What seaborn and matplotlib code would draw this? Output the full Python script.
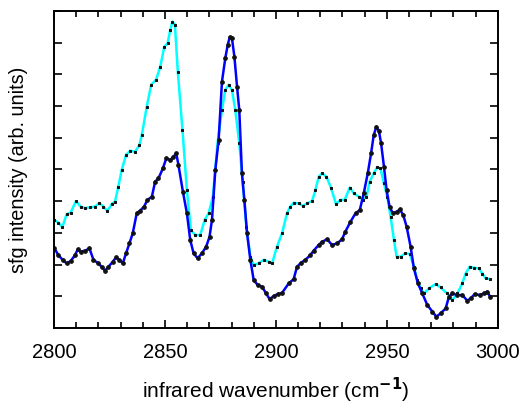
import numpy as np
import matplotlib
matplotlib.use("Agg")
import matplotlib.pyplot as plt
from matplotlib.ticker import MultipleLocator
import seaborn as sns

# cyan trace (wavenumber, intensity in arb. units)
cyan_wn = [2800.2, 2802.0, 2803.8, 2805.7, 2807.5, 2809.9, 2812.0, 2814.0, 2816.3, 2818.5,
           2820.5, 2822.3, 2824.1, 2826.0, 2827.5, 2829.0, 2830.5, 2832.5, 2834.3, 2836.6,
           2838.5, 2839.6, 2841.8, 2843.8, 2846.0, 2847.9, 2849.7, 2851.2, 2852.4, 2853.4,
           2854.5, 2855.8, 2857.9, 2859.9, 2861.7, 2863.7, 2865.9, 2867.9, 2869.7, 2871.6,
           2873.7, 2875.7, 2877.2, 2878.7, 2880.2, 2881.7, 2883.5, 2885.0, 2886.7, 2888.5,
           2890.0, 2892.2, 2894.5, 2896.8, 2898.3, 2900.5, 2902.8, 2905.0, 2906.5, 2908.0,
           2910.3, 2912.2, 2914.0, 2916.3, 2917.8, 2919.3, 2920.8, 2922.8, 2924.9, 2927.1,
           2929.1, 2931.0, 2933.3, 2935.1, 2937.4, 2939.3, 2940.8, 2942.3, 2944.1, 2945.6,
           2947.1, 2948.7, 2950.2, 2951.7, 2953.2, 2954.4, 2956.2, 2958.4, 2960.4, 2962.2,
           2963.7, 2965.2, 2966.7, 2969.0, 2972.0, 2974.2, 2977.2, 2979.5, 2981.8, 2984.0,
           2985.5, 2987.3, 2989.3, 2991.5, 2993.0, 2994.5, 2996.5]
cyan_int = [3.41, 3.32, 3.18, 3.59, 3.64, 4.00, 3.83, 3.78, 3.81, 3.83,
            3.94, 3.83, 3.69, 3.91, 3.99, 4.46, 4.98, 5.46, 5.59, 5.56,
            5.77, 6.09, 6.98, 7.67, 7.83, 8.24, 8.87, 8.98, 9.40, 9.66,
            9.56, 8.09, 6.25, 4.35, 3.09, 2.93, 2.93, 3.41, 3.62, 4.14,
            5.83, 6.88, 7.51, 7.67, 7.51, 6.88, 5.83, 4.62, 3.20, 2.25,
            1.99, 2.04, 2.15, 2.09, 2.04, 2.57, 2.99, 3.62, 3.83, 3.95,
            3.93, 3.85, 3.93, 4.00, 4.35, 4.77, 4.88, 4.77, 4.41, 3.91,
            4.04, 4.04, 4.43, 4.25, 4.14, 4.04, 4.14, 4.62, 4.88, 5.07,
            5.04, 4.56, 4.14, 3.51, 2.78, 2.25, 2.25, 2.36, 2.33, 1.93,
            1.51, 1.25, 1.09, 1.25, 1.39, 1.28, 1.09, 0.88, 1.09, 1.41,
            1.72, 1.93, 1.90, 1.88, 1.72, 1.57, 1.54]

# blue trace
blue_wn = [2800.2, 2802.0, 2803.9, 2805.7, 2807.5, 2809.5, 2810.7, 2812.0, 2814.0, 2816.0,
           2817.8, 2820.0, 2821.5, 2823.0, 2824.5, 2826.5, 2828.0, 2829.5, 2831.0, 2832.5,
           2834.0, 2835.5, 2837.3, 2838.8, 2840.6, 2842.1, 2844.1, 2845.6, 2847.1, 2849.1,
           2850.6, 2852.4, 2853.6, 2855.1, 2856.1, 2858.1, 2859.9, 2861.4, 2862.9, 2864.7,
           2866.7, 2868.6, 2870.1, 2871.2, 2872.7, 2874.2, 2875.7, 2877.2, 2878.3, 2879.2,
           2880.2, 2881.3, 2882.5, 2883.5, 2884.7, 2885.8, 2887.0, 2888.5, 2890.0, 2891.8,
           2893.8, 2895.6, 2897.2, 2899.0, 2900.8, 2902.8, 2905.8, 2908.0, 2909.5, 2911.3,
           2913.3, 2915.5, 2917.0, 2919.3, 2920.8, 2923.1, 2925.3, 2927.6, 2929.8, 2931.3,
           2933.6, 2935.9, 2937.8, 2939.6, 2941.4, 2942.9, 2944.1, 2945.3, 2946.4, 2947.4,
           2948.7, 2949.9, 2951.2, 2952.7, 2954.4, 2955.9, 2957.4, 2958.9, 2960.7, 2962.2,
           2964.0, 2966.0, 2968.2, 2970.5, 2972.3, 2974.2, 2976.5, 2978.0, 2979.5, 2981.8,
           2984.0, 2986.3, 2987.8, 2989.6, 2991.8, 2993.8, 2995.3, 2996.5]
blue_int = [2.51, 2.30, 2.15, 2.04, 2.11, 2.30, 2.48, 2.41, 2.44, 2.51,
            2.15, 2.04, 1.93, 1.81, 1.93, 2.09, 2.23, 2.15, 2.04, 2.36,
            2.67, 2.99, 3.62, 3.70, 3.83, 4.04, 4.14, 4.62, 4.72, 5.04,
            5.35, 5.30, 5.38, 5.51, 5.14, 4.30, 3.62, 2.78, 2.36, 2.20,
            2.36, 2.57, 2.88, 3.41, 4.98, 5.93, 7.77, 8.51, 8.93, 9.17,
            9.14, 8.56, 7.61, 6.88, 4.88, 4.04, 2.99, 2.15, 1.51, 1.36,
            1.30, 1.09, 0.91, 1.01, 1.07, 1.11, 1.41, 1.54, 1.93, 2.06,
            2.15, 2.30, 2.44, 2.62, 2.72, 2.80, 2.62, 2.67, 2.80, 3.04,
            3.35, 3.62, 3.72, 4.25, 4.88, 5.51, 6.09, 6.35, 6.22, 5.83,
            5.09, 4.35, 3.83, 3.62, 3.67, 3.74, 3.56, 3.20, 2.57, 1.88,
            1.41, 1.09, 0.73, 0.52, 0.36, 0.46, 0.62, 0.99, 1.09, 1.04,
            1.04, 0.86, 0.94, 1.07, 1.04, 1.09, 1.15, 0.99]

sns.set_style("ticks")
plt.rcParams['font.family'] = ['Liberation Sans', 'DejaVu Sans']
plt.rcParams['text.color'] = 'black'
plt.rcParams['axes.labelcolor'] = 'black'
plt.rcParams['xtick.color'] = 'black'
plt.rcParams['ytick.color'] = 'black'

fig = plt.figure(figsize=(5.24, 4.05), dpi=100)
ax = fig.add_axes([0.103, 0.19, 0.847, 0.783])

sns.lineplot(x=cyan_wn, y=cyan_int, ax=ax, color='#00ffff', linewidth=1.8, sort=False,
             marker='s', markersize=1.6, markerfacecolor='#111111', markeredgecolor='#111111')
sns.lineplot(x=blue_wn, y=blue_int, ax=ax, color='#0000ff', linewidth=1.8, sort=False,
             marker='o', markersize=2.6, markerfacecolor='#111111', markeredgecolor='#111111')

ax.set_xlim(2800, 3000)
ax.set_ylim(0, 10)
ax.xaxis.set_major_locator(MultipleLocator(50))
ax.xaxis.set_minor_locator(MultipleLocator(10))
ax.yaxis.set_major_locator(MultipleLocator(1))
ax.set_yticklabels([])
ax.tick_params(which='both', direction='in', top=True, right=True, width=1.2)
ax.tick_params(which='major', length=6, labelsize=14.5, pad=11)
ax.tick_params(which='minor', length=4)

for sp in ax.spines.values():
    sp.set_visible(True)
    sp.set_linewidth(1.4)
    sp.set_color('black')

ax.set_xlabel('infrared wavenumber (cm$^{\\mathbf{-1}}$)', fontsize=15, labelpad=10)
ax.set_ylabel('sfg intensity (arb. units)', fontsize=14.3, labelpad=8)

fig.savefig('out.png', dpi=100)
